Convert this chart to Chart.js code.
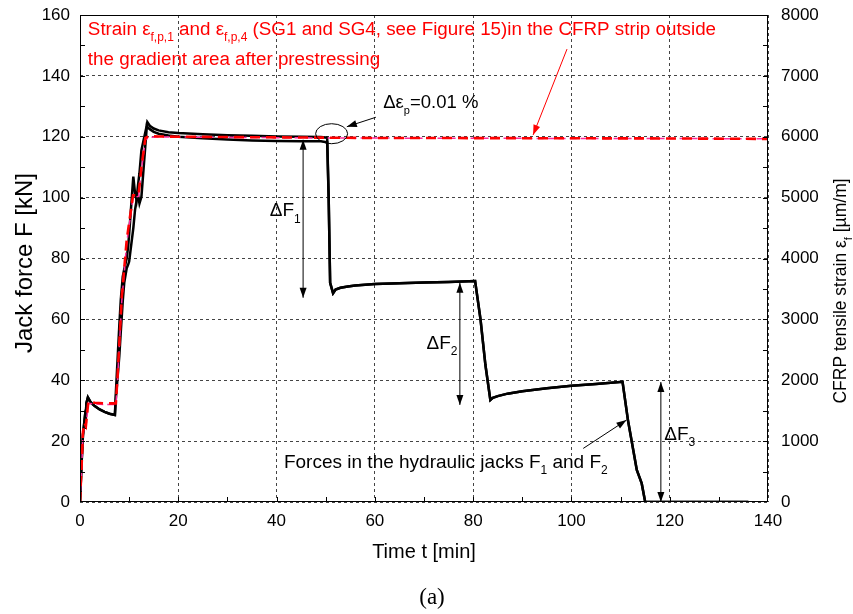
<!DOCTYPE html>
<html>
<head>
<meta charset="utf-8">
<script src="https://cdn.jsdelivr.net/npm/chart.js@4.4.1/dist/chart.umd.min.js"></script>
<style>
  html, body { margin: 0; padding: 0; background: #fff; }
  #wrap { width: 853px; height: 614px; position: relative; }
</style>
</head>
<body>
<div id="wrap"><canvas id="c" width="853" height="614"></canvas></div>
<script>
// ---------------- DATA ----------------
// Time [min] for the jack force curves
const tJack = [0,0.3,0.6,0.9,1.05,1.3,1.6,2,2.5,3,4,5,6,7.1,7.3,8.0,8.3,8.7,9.0,9.5,9.8,10.0,10.85,11.2,11.5,11.8,12.1,12.5,13.6,13.7,14.2,15,16,18,20,25,30,35,40,45,49,50.3,50.6,50.9,51.5,52,53,54.5,56,60,65,70,75,80.4,81.5,82.5,83.5,84,85,87,90,95,100,105,110.4,111.5,113.3,114.3,115.0,116,120,125,130,136];
// Jack force F1 [kN]
const F1 = [0,12,22,26.5,24,32.5,34.4,33.2,32.2,31.5,30.4,29.6,29.0,28.6,36,58,66.4,74,76.5,80,84,88,106.9,101.4,99.2,104,108,115.6,123.8,124.8,123.6,122.7,122.1,121.5,121.2,120.8,120.5,120.3,120.1,120.0,119.9,119.7,100,72,68.6,69.8,70.4,70.8,71.1,71.6,71.9,72.1,72.3,72.6,60,45,33.5,34.2,34.8,35.6,36.4,37.4,38.2,38.8,39.5,26.9,10.5,6.1,0.1,0,0,0,0,0];
// Jack force F2 [kN]
const F2 = [0,12,22,26.5,24,32.5,34.4,33.2,32.2,31.5,30.4,29.6,29.0,28.6,34,48,56,66,72,76.8,78,79,90,96,99,101,98.1,100.3,123.5,123.2,122.5,121.6,121.0,120.4,120.0,119.5,119.1,118.8,118.6,118.5,118.5,118.2,100,72,68.6,69.8,70.4,70.8,71.1,71.6,71.9,72.1,72.3,72.6,60,45,33.5,34.2,34.8,35.6,36.4,37.4,38.2,38.8,39.5,26.9,10.5,6.1,0.1,0,0,0,0,0];

// Time [min] for the strain gauges
const tStrain = [0,0.35,0.6,0.9,1.2,1.7,3,5,7.3,7.6,8.5,9.5,10.8,11.9,12.5,13.3,14,16,20,30,40,50,60,80,100,120,140];
// CFRP strain SG1 (eps_f,p,1) [µm/m]
const SG1 = [0,640,1150,1300,1250,1650,1630,1620,1620,2000,3370,4300,5040,5040,5500,5980,6010,6005,6000,5995,5990,5985,5980,5978,5975,5972,5965];
// CFRP strain SG4 (eps_f,p,4) [µm/m]
const SG4 = [0,560,1100,1250,1230,1620,1610,1600,1600,1950,3300,4250,5000,5020,5450,5950,5990,5995,5995,5990,5985,5980,5978,5975,5972,5970,5968];

// Axis tick settings
const xTicks = {min: 0, max: 140, step: 20, minor: 10};
const yTicks = {min: 0, max: 160, step: 20, minor: 10};
const y2Ticks = {min: 0, max: 8000, step: 1000, minor: 500};

// ---------------- CHART ----------------
const FONT = '"Liberation Sans", Arial, sans-serif';
Chart.defaults.font.family = FONT;
Chart.defaults.font.size = 17;
Chart.defaults.color = '#000';

const pts = (xs, ys) => xs.map((x, i) => ({x: x, y: ys[i]}));

function richWidth(ctx, parts, size) {
  let w = 0;
  for (const p of parts) { ctx.font = (p.sub ? Math.round(size * 0.62) : size) + 'px ' + FONT; w += ctx.measureText(p.t).width; }
  return w;
}

function drawRich(ctx, parts, x, y, color, size) {
  ctx.fillStyle = color;
  ctx.textAlign = 'left';
  ctx.textBaseline = 'alphabetic';
  let cx = x;
  for (const p of parts) {
    const fs = p.sub ? Math.round(size * 0.62) : size;
    ctx.font = fs + 'px ' + FONT;
    ctx.fillText(p.t, cx, y + (p.sub ? size * 0.32 : 0));
    cx += ctx.measureText(p.t).width;
  }
}

function arrowHead(ctx, x1, y1, x2, y2, len, wid) {
  const a = Math.atan2(y2 - y1, x2 - x1);
  ctx.beginPath();
  ctx.moveTo(x2, y2);
  ctx.lineTo(x2 - len * Math.cos(a) + wid * Math.sin(a), y2 - len * Math.sin(a) - wid * Math.cos(a));
  ctx.lineTo(x2 - len * Math.cos(a) - wid * Math.sin(a), y2 - len * Math.sin(a) + wid * Math.cos(a));
  ctx.closePath();
  ctx.fill();
}

function arrow(ctx, x1, y1, x2, y2, color, both) {
  ctx.strokeStyle = color; ctx.fillStyle = color; ctx.lineWidth = 1;
  ctx.beginPath(); ctx.moveTo(x1, y1); ctx.lineTo(x2, y2); ctx.stroke();
  arrowHead(ctx, x1, y1, x2, y2, 10, 3.5);
  if (both) arrowHead(ctx, x2, y2, x1, y1, 10, 3.5);
}

const decor = {
  id: 'decor',
  beforeDraw(chart) {
    const ctx = chart.ctx;
    ctx.save(); ctx.fillStyle = '#fff'; ctx.fillRect(0, 0, chart.width, chart.height); ctx.restore();
  },
  afterDraw(chart) {
    const ctx = chart.ctx;
    const a = chart.chartArea;
    const sx = chart.scales.x, sy = chart.scales.y, sy2 = chart.scales.y2;
    const X = v => sx.getPixelForValue(v), Y = v => sy.getPixelForValue(v);
    ctx.save();
    // frame
    ctx.strokeStyle = '#000'; ctx.lineWidth = 1;
    ctx.strokeRect(Math.round(a.left) + 0.5, Math.round(a.top) + 0.5, Math.round(a.right - a.left) - 1, Math.round(a.bottom - a.top) - 1);
    // inward ticks
    ctx.beginPath();
    for (let v = xTicks.min + xTicks.minor; v < xTicks.max; v += xTicks.minor) {
      const px = Math.round(X(v)) + 0.5;
      ctx.moveTo(px, a.bottom); ctx.lineTo(px, a.bottom - 5);
    }
    for (let v = yTicks.min + yTicks.minor; v < yTicks.max; v += yTicks.minor) {
      const py = Math.round(Y(v)) + 0.5;
      ctx.moveTo(a.left, py); ctx.lineTo(a.left + 5, py);
    }
    for (let v = y2Ticks.min + y2Ticks.minor; v < y2Ticks.max; v += y2Ticks.minor) {
      const py = Math.round(sy2.getPixelForValue(v)) + 0.5;
      ctx.moveTo(a.right, py); ctx.lineTo(a.right - 5, py);
    }
    ctx.stroke();

    // axis titles
    ctx.fillStyle = '#000';
    ctx.font = '20px ' + FONT;
    ctx.textAlign = 'center'; ctx.textBaseline = 'alphabetic';
    ctx.fillText('Time t [min]', (a.left + a.right) / 2, 558);
    ctx.save();
    ctx.translate(32, 263);
    ctx.rotate(-Math.PI / 2);
    ctx.font = '24px ' + FONT;
    ctx.fillText('Jack force F [kN]', 0, 0);
    ctx.restore();
    ctx.save();
    ctx.translate(846, 291);
    ctx.rotate(-Math.PI / 2);
    const rParts = [{t: 'CFRP tensile strain ε'}, {t: 'f', sub: true}, {t: ' [µm/m]'}];
    const w = richWidth(ctx, rParts, 17.5);
    drawRich(ctx, rParts, -w / 2, 0, '#000', 17.5);
    ctx.restore();

    // (a)
    ctx.font = '23px "Liberation Serif", "DejaVu Serif", serif';
    ctx.textAlign = 'center'; ctx.fillStyle = '#000';
    ctx.fillText('(a)', 432, 604);

    // red annotation text
    drawRich(ctx, [
      {t: 'Strain ε'}, {t: 'f,p,1', sub: true}, {t: ' and ε'}, {t: 'f,p,4', sub: true},
      {t: ' (SG1 and SG4, see Figure 15)in the CFRP strip outside'}
    ], X(1.6), Y(153.4), '#ff0000', 18.8);
    drawRich(ctx, [{t: 'the gradient area after prestressing'}], X(1.6), Y(143.6), '#ff0000', 18.8);
    arrow(ctx, X(99.1), Y(148.8), X(92.2), Y(120.6), '#ff0000', false);

    // ellipse and delta eps annotation
    ctx.strokeStyle = '#000'; ctx.lineWidth = 1;
    ctx.beginPath();
    ctx.ellipse(X(51.2), Y(121.0), 16, 10, 0, 0, Math.PI * 2);
    ctx.stroke();
    drawRich(ctx, [{t: 'Δε'}, {t: 'p', sub: true}, {t: '=0.01 %'}], X(61.7), Y(129.4), '#000', 18.5);
    arrow(ctx, X(60.2), Y(126.4), X(54.3), Y(123.3), '#000', false);

    // Delta F arrows
    arrow(ctx, X(45.4), Y(119.0), X(45.4), Y(67.1), '#000', true);
    drawRich(ctx, [{t: 'ΔF'}, {t: '1', sub: true}], X(38.6), Y(93.8), '#000', 19);
    arrow(ctx, X(77.3), Y(72.0), X(77.3), Y(31.9), '#000', true);
    drawRich(ctx, [{t: 'ΔF'}, {t: '2', sub: true}], X(70.5), Y(50.3), '#000', 19);
    arrow(ctx, X(118.2), Y(39.4), X(118.2), Y(0), '#000', true);
    drawRich(ctx, [{t: 'ΔF'}, {t: '3', sub: true}], X(118.9), Y(20.3), '#000', 19);

    // forces text
    drawRich(ctx, [{t: 'Forces in the hydraulic jacks F'}, {t: '1', sub: true}, {t: ' and F'}, {t: '2', sub: true}],
      X(41.5), Y(11.2), '#000', 19);
    arrow(ctx, X(102.4), Y(17.6), X(111.2), Y(26.9), '#000', false);
    ctx.restore();
  }
};

const noVertPad = s => { s.paddingTop = 0; s.paddingBottom = 0; };

new Chart(document.getElementById('c'), {
  type: 'scatter',
  data: {
    datasets: [
      {label: 'SG1', data: pts(tStrain, SG1), yAxisID: 'y2', showLine: true, borderColor: '#ff0000', borderWidth: 2.6, borderDash: [10, 6], pointRadius: 0, order: 0},
      {label: 'SG4', data: pts(tStrain, SG4), yAxisID: 'y2', showLine: true, borderColor: '#ff2a9a', borderWidth: 1.5, borderDash: [7, 4], pointRadius: 0, order: 1},
      {label: 'F1', data: pts(tJack, F1), yAxisID: 'y', showLine: true, borderColor: '#000', borderWidth: 2.5, pointRadius: 0, order: 2},
      {label: 'F2', data: pts(tJack, F2), yAxisID: 'y', showLine: true, borderColor: '#000', borderWidth: 2.5, pointRadius: 0, order: 3}
    ]
  },
  options: {
    responsive: false,
    animation: false,
    layout: {padding: {top: 15, left: 0, right: 0, bottom: 0}},
    plugins: {legend: {display: false}, tooltip: {enabled: false}},
    scales: {
      x: {
        type: 'linear', min: xTicks.min, max: xTicks.max,
        ticks: {stepSize: xTicks.step, padding: 9, font: {size: 17}},
        grid: {color: '#444', lineWidth: 1, drawTicks: false},
        border: {display: false, dash: [3, 3]},
        afterFit: s => { s.height = 112; s.paddingLeft = 0; s.paddingRight = 0; }
      },
      y: {
        type: 'linear', position: 'left', min: yTicks.min, max: yTicks.max,
        ticks: {stepSize: yTicks.step, padding: 10, font: {size: 17}},
        grid: {color: '#444', lineWidth: 1, drawTicks: false},
        border: {display: false, dash: [3, 3]},
        afterFit: s => { s.width = 80; noVertPad(s); }
      },
      y2: {
        type: 'linear', position: 'right', min: y2Ticks.min, max: y2Ticks.max,
        ticks: {stepSize: y2Ticks.step, padding: 13, font: {size: 17}, callback: v => String(v)},
        grid: {display: false, drawTicks: false},
        border: {display: false},
        afterFit: s => { s.width = 85; noVertPad(s); }
      }
    }
  },
  plugins: [decor]
});
</script>
</body>
</html>
